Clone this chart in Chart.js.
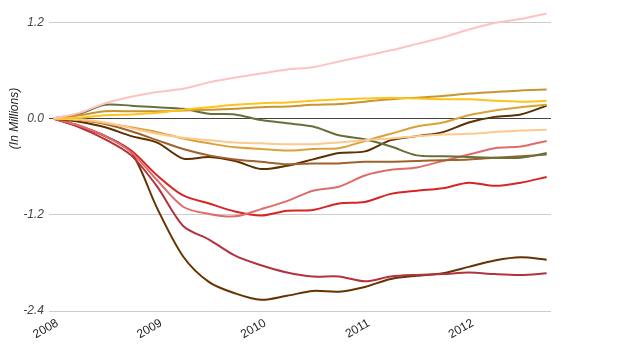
<!DOCTYPE html>
<html>
<head>
<meta charset="UTF-8">
<script src="https://cdn.jsdelivr.net/npm/chart.js@4.4.0/dist/chart.umd.min.js"></script>
<style>
  * { margin: 0; padding: 0; }
  body { background: #fff; width: 624px; height: 350px; overflow: hidden; }
</style>
</head>
<body>
<canvas id="c" width="624" height="350"></canvas>
<script>
// month index from Jan 2008, sampled every quarter
const months = [0, 3, 6, 9, 12, 15, 18, 21, 24, 27, 30, 33, 36, 39, 42, 45, 48, 51, 54, 57]
const yearTicks  = [0, 12, 24, 36, 48]
const yearLabels = ['2008', '2009', '2010', '2011', '2012']
const valueTicks  = [-2.4, -1.2, 0, 1.2]
const valueLabels = ['-2.4', '-1.2', '0.0', '1.2']

// values in millions
const pink      = [0, 0.07, 0.19, 0.27, 0.33, 0.37, 0.45, 0.51, 0.56, 0.61, 0.64, 0.71, 0.78, 0.85, 0.93, 1.01, 1.11, 1.19, 1.24, 1.31]
const olive     = [0, 0.06, 0.17, 0.16, 0.14, 0.12, 0.06, 0.05, -0.02, -0.06, -0.10, -0.21, -0.26, -0.35, -0.46, -0.47, -0.48, -0.49, -0.49, -0.43]
const yellow    = [0, 0.01, 0.04, 0.05, 0.07, 0.11, 0.14, 0.17, 0.19, 0.20, 0.22, 0.24, 0.25, 0.26, 0.25, 0.24, 0.24, 0.22, 0.21, 0.22]
const gold      = [0, 0.04, 0.09, 0.09, 0.09, 0.10, 0.11, 0.12, 0.14, 0.15, 0.17, 0.18, 0.21, 0.24, 0.26, 0.28, 0.31, 0.33, 0.35, 0.36]
const ochre     = [0, -0.02, -0.06, -0.11, -0.17, -0.25, -0.31, -0.36, -0.38, -0.40, -0.38, -0.37, -0.28, -0.19, -0.10, -0.05, 0.04, 0.10, 0.14, 0.17]
const peach     = [0, -0.01, -0.05, -0.12, -0.19, -0.24, -0.27, -0.30, -0.31, -0.32, -0.32, -0.30, -0.27, -0.25, -0.22, -0.20, -0.19, -0.17, -0.15, -0.14]
const brown     = [0, -0.02, -0.07, -0.16, -0.27, -0.38, -0.46, -0.51, -0.54, -0.57, -0.56, -0.56, -0.54, -0.54, -0.53, -0.52, -0.51, -0.49, -0.47, -0.45]
const darkBrown = [0, -0.04, -0.11, -0.22, -0.30, -0.50, -0.48, -0.53, -0.63, -0.59, -0.51, -0.43, -0.41, -0.27, -0.22, -0.17, -0.05, 0.02, 0.05, 0.16]
const rose      = [0, -0.09, -0.22, -0.42, -0.77, -1.10, -1.19, -1.22, -1.13, -1.03, -0.90, -0.85, -0.71, -0.64, -0.61, -0.53, -0.45, -0.37, -0.35, -0.28]
const red       = [0, -0.09, -0.22, -0.40, -0.71, -0.96, -1.06, -1.16, -1.21, -1.15, -1.14, -1.06, -1.04, -0.94, -0.90, -0.87, -0.80, -0.84, -0.80, -0.73]
const crimson   = [0, -0.11, -0.26, -0.46, -0.85, -1.34, -1.51, -1.71, -1.83, -1.92, -1.97, -1.97, -2.03, -1.97, -1.95, -1.94, -1.92, -1.94, -1.95, -1.93]
const deepBrown = [0, -0.10, -0.22, -0.42, -1.12, -1.72, -2.04, -2.18, -2.26, -2.21, -2.15, -2.16, -2.10, -2.00, -1.96, -1.93, -1.85, -1.77, -1.73, -1.76]

const series = [
  { data: pink,      color: '#ffc2c2' },
  { data: yellow,    color: '#fcc41c' },
  { data: gold,      color: '#c9952f' },
  { data: peach,     color: '#ffc88f' },
  { data: ochre,     color: '#d9a238' },
  { data: olive,     color: '#66703a' },
  { data: brown,     color: '#a0622c' },
  { data: darkBrown, color: '#5c3000' },
  { data: rose,      color: '#df6b6b' },
  { data: red,       color: '#d92424' },
  { data: crimson,   color: '#b3323e' },
  { data: deepBrown, color: '#663300' },
]

const FONT = "'Liberation Sans', Arial, sans-serif"

// "(In Millions)" sits beside the zero line, not centred on the axis
const yTitle = {
  id: 'yTitle',
  afterDraw(chart) {
    const { ctx } = chart
    const y0 = chart.scales.y.getPixelForValue(0)
    ctx.save()
    ctx.translate(15, y0)
    ctx.rotate(-Math.PI / 2)
    ctx.font = `italic 12px ${FONT}`
    ctx.fillStyle = '#222'
    ctx.textAlign = 'center'
    ctx.textBaseline = 'middle'
    ctx.fillText('(In Millions)', 0, 0)
    ctx.restore()
  }
}

new Chart(document.getElementById('c'), {
  type: 'line',
  data: {
    datasets: series.map(s => ({
      data: months.map((m, i) => ({ x: m, y: s.data[i] })),
      borderColor: s.color,
      borderWidth: 2,
      pointRadius: 0,
      tension: 0.3,
      fill: false,
    }))
  },
  options: {
    responsive: false,
    animation: false,
    devicePixelRatio: 1,
    layout: { padding: { top: 0, right: 73, left: 0, bottom: 0 } },
    plugins: { legend: { display: false }, tooltip: { enabled: false } },
    scales: {
      x: {
        type: 'linear',
        min: -0.5,
        max: 57.5,
        afterBuildTicks: s => { s.ticks = yearTicks.map(v => ({ value: v })) },
        afterFit: s => { s.height = 39 },
        grid: { display: false },
        border: { display: false },
        ticks: {
          autoSkip: false,
          minRotation: 30,
          maxRotation: 30,
          padding: -3,
          labelOffset: 4,
          color: '#222',
          font: { family: FONT, size: 12 },
          callback: v => yearLabels[yearTicks.indexOf(v)],
        },
      },
      y: {
        min: -2.4,
        max: 1.325,
        afterBuildTicks: s => { s.ticks = valueTicks.map(v => ({ value: v })) },
        afterFit: s => { s.width = 49 },
        border: { display: false },
        grid: {
          drawTicks: false,
          color: c => c.tick && c.tick.value === 0 ? '#444' : '#ccc',
        },
        ticks: {
          padding: 5,
          color: '#444',
          font: { family: FONT, size: 12, style: 'italic' },
          callback: v => valueLabels[valueTicks.indexOf(v)],
        },
      },
    },
  },
  plugins: [yTitle],
})
</script>
</body>
</html>
